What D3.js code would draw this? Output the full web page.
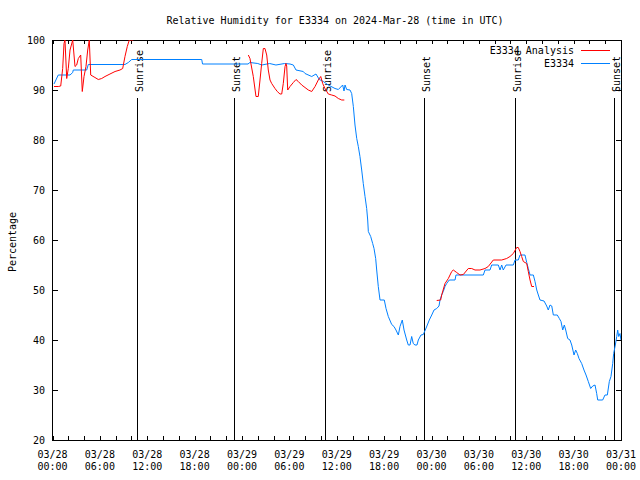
<!DOCTYPE html>
<html><head><meta charset="utf-8">
<script src="https://cdn.jsdelivr.net/npm/d3@7"></script>
<style>
body{margin:0;background:#fff;}
text{font-family:"DejaVu Sans Mono",monospace;font-size:10px;fill:#000;}
</style></head>
<body><svg id="c" width="640" height="480"></svg>
<script>
// hours since 2024-03-28 00:00 UTC
const obsHours = [0.19,0.73,2.22,2.56,2.63,4.33,4.53,9.18,9.60,10.03,18.90,19.0,24.76,25.0,26.0,26.5,27.5,28.3,29.4,30.08,30.5,30.84,31.76,31.98,32.83,33.37,33.79,34.30,34.93,35.78,36.2,36.75,36.92,37.05,37.26,37.68,37.89,38.10,38.31,38.53,38.73,38.94,39.16,39.36,39.58,39.79,39.92,40.0,40.3,40.55,40.72,40.93,41.06,41.26,41.48,42.02,42.24,42.53,42.96,43.25,43.5,43.8,44.01,44.30,44.52,44.86,45.06,45.28,45.49,45.69,45.91,46.16,46.33,46.67,46.96,47.21,47.47,47.72,48.03,48.32,48.66,48.95,49.08,49.29,49.49,49.71,49.92,50.25,50.98,51.1,54.56,54.78,55.41,55.62,56.46,56.68,56.89,57.09,57.44,58.36,58.58,58.99,59.21,59.84,60.06,60.26,60.48,60.9,61.11,61.33,61.53,61.74,62.25,62.59,62.79,63.01,63.23,63.43,63.93,64.19,64.4,64.62,64.82,65.0,65.25,65.54,65.76,66.05,66.26,66.47,66.68,67.02,67.31,67.57,67.86,68.16,68.42,68.71,68.92,69.05,69.68,69.97,70.27,70.52,70.73,70.95,71.07,71.28,71.46,71.58,71.71,71.87,72.0];
const obsValues = [91.2,93,93,93.5,94,94,95.1,95.1,95.5,96.1,96.1,95.2,95.2,95.5,95.3,95.0,95.3,95.0,95.3,95.2,95,94,93.7,93.3,92.7,93.2,92.1,91.7,91,90.3,90.1,91,89.8,91,90.1,90,89.3,86.7,83,80.3,78.7,76.7,74,71.3,68.7,66.3,64,61.7,60.7,59.3,58.3,56.3,54,50.7,48,48,46.3,44.7,43.1,42.7,42,41,42.7,44,42,40,39,39,40.7,39.3,39,39,40,41,41.1,42,43,44,45,46,46.3,46.8,48,49,49.7,50.7,51.3,52,52,53,53,54,54,55,55,54,55,54,55,55,56,56,57,57,55.5,54.3,53,53,51.7,50,49,48,47.8,46.8,46,47,46.8,45,45,44.3,43.7,42,43,42,40.3,40,39,37,38,37.3,36.3,35.3,34,33,31.7,30.3,30.8,31,29.3,28,28,29,29,31.7,32.7,35.3,37.3,39,40.7,42,40.7,41.3,40];

const anaHours1 = [0.19,0.73,1.04,1.29,1.46,1.58,1.80,2.0,2.22,2.56,2.85,3.06,3.27,3.57,3.77,3.99,4.24,4.46,4.66,4.84,5.38,5.80,6.23,6.65,7.28,7.92,8.55,8.89,9.18,9.47,9.73,10.23];
const anaValues1 = [90.7,90.7,90.8,94.3,99.3,100,92.3,94.3,98,100,94.7,95,96.3,97,89.7,92.7,94.7,98,100,93,92.5,92.1,92.3,92.7,93.2,93.7,94,94.3,96.7,98.7,100,100];
const anaHours2 = [24.8,25.01,25.43,25.77,26.06,26.28,26.49,26.7,26.91,27.13,27.33,27.55,27.76,28.18,28.47,28.81,29.03,29.23,29.45,29.57,29.66,29.79,30.08,30.5,30.84,31.13,31.56,31.98,32.4,32.83,33.25,33.66,33.97,34.22,34.51,34.93,35.36,35.78,36.2,36.63,36.96];
const anaValues2 = [97,96.3,92.7,88.7,88.7,92,95.3,98.3,98.3,97,94,92,91.3,90.3,89.7,89.2,89.2,91.3,94.7,95.3,94.8,90,90.7,91.5,92.1,91.7,91,90.5,90,89.7,90.7,92,92.7,91.3,90.3,89.2,89,88.8,88.3,88,88];
const anaHours3 = [48.66,49.16,49.29,49.71,50.13,50.56,50.76,51.19,51.61,52.03,52.66,53.09,53.51,54.14,54.78,55.19,55.83,56.89,57.52,57.94,58.36,58.79,58.99,59.21,59.42,59.63,60.06,60.26,60.48,60.69,60.98];
const anaValues3 = [47.9,48,49,51.3,52.3,53.7,54,53.5,53,53.1,54.3,54.3,54,54,54.3,54.7,56,56,56.3,56.7,57.3,58.5,58.5,57.7,56.7,55.7,55.3,53.7,52,50.7,50.7];

const sunHours = [10.65, 23.0, 34.55, 47.1, 58.6, 71.15];
const sunLabels = ["Sunrise","Sunset","Sunrise","Sunset","Sunrise","Sunset"];
const yTicks = [20,30,40,50,60,70,80,90,100];
const xTickHours = [0,6,12,18,24,30,36,42,48,54,60,66,72];
const titleText = "Relative Humidity for E3334 on 2024-Mar-28 (time in UTC)";
const legendNames = ["E3334 Analysis","E3334"];
const legendColors = ["#ff0000","#0080ff"];

const t0 = Date.UTC(2024,2,28,0,0);
const toDate = h => new Date(t0 + h*3600000);

const L=52.5, R=621, T=40, B=440;
const svg = d3.select("#c");
const x = d3.scaleUtc().domain([toDate(0), toDate(72)]).range([L,R]);
const y = d3.scaleLinear().domain([20,100]).range([B,T]);

svg.append("defs").append("clipPath").attr("id","clip")
  .append("rect").attr("x",L).attr("y",T).attr("width",R-L).attr("height",B-T);

// title
svg.append("text").attr("x",335).attr("y",24).attr("text-anchor","middle").text(titleText);
// y label
svg.append("text").attr("transform","translate(16,242) rotate(-90)").attr("text-anchor","middle").text("Percentage");

// frame
svg.append("rect").attr("x",L).attr("y",T).attr("width",R-L).attr("height",B-T)
  .attr("fill","none").attr("stroke","#000").attr("shape-rendering","crispEdges");

// y ticks
const g = svg.append("g").attr("shape-rendering","crispEdges");
yTicks.forEach(v=>{
  const yy = Math.round(y(v))+0.5;
  g.append("line").attr("x1",L).attr("x2",L+5).attr("y1",yy).attr("y2",yy).attr("stroke","#000");
  g.append("line").attr("x1",R-5).attr("x2",R).attr("y1",yy).attr("y2",yy).attr("stroke","#000");
  svg.append("text").attr("x",45).attr("y",yy+3.5).attr("text-anchor","end").text(v);
});
// x ticks every 2h
d3.range(0,73,2).forEach(h=>{
  const xx = Math.round(x(toDate(h)))+0.5;
  g.append("line").attr("x1",xx).attr("x2",xx).attr("y1",B).attr("y2",B-4).attr("stroke","#000");
  g.append("line").attr("x1",xx).attr("x2",xx).attr("y1",T).attr("y2",T+4).attr("stroke","#000");
});
const fmtD = d3.utcFormat("%m/%d"), fmtT = d3.utcFormat("%H:%M");
xTickHours.forEach(h=>{
  const xx = x(toDate(h));
  svg.append("text").attr("x",xx).attr("y",457.5).attr("text-anchor","middle").text(fmtD(toDate(h)));
  svg.append("text").attr("x",xx).attr("y",470).attr("text-anchor","middle").text(fmtT(toDate(h)));
});

// sun lines
sunHours.forEach((h,i)=>{
  const xx = Math.round(x(toDate(h)))+0.5;
  svg.append("line").attr("x1",xx).attr("x2",xx).attr("y1",98).attr("y2",B)
    .attr("stroke","#000").attr("shape-rendering","crispEdges");
  svg.append("text").attr("transform",`translate(${xx+5},92) rotate(-90)`).attr("text-anchor","start").text(sunLabels[i]);
});

const line = d3.line().x(d=>x(toDate(d[0]))).y(d=>y(d[1]));
const plot = svg.append("g").attr("clip-path","url(#clip)");
plot.append("path").datum(d3.zip(obsHours,obsValues)).attr("d",line)
  .attr("fill","none").attr("stroke",legendColors[1]).attr("stroke-width",1);
[[anaHours1,anaValues1],[anaHours2,anaValues2],[anaHours3,anaValues3]].forEach(([hs,vs])=>{
  plot.append("path").datum(d3.zip(hs,vs)).attr("d",line)
    .attr("fill","none").attr("stroke",legendColors[0]).attr("stroke-width",1);
});

// legend
legendNames.forEach((n,i)=>{
  const yy = 50.5 + i*13;
  svg.append("text").attr("x",574).attr("y",yy+3.5).attr("text-anchor","end").text(n);
  svg.append("line").attr("x1",581).attr("x2",610).attr("y1",yy).attr("y2",yy)
    .attr("stroke",legendColors[i]).attr("shape-rendering","crispEdges");
});
</script></body></html>
